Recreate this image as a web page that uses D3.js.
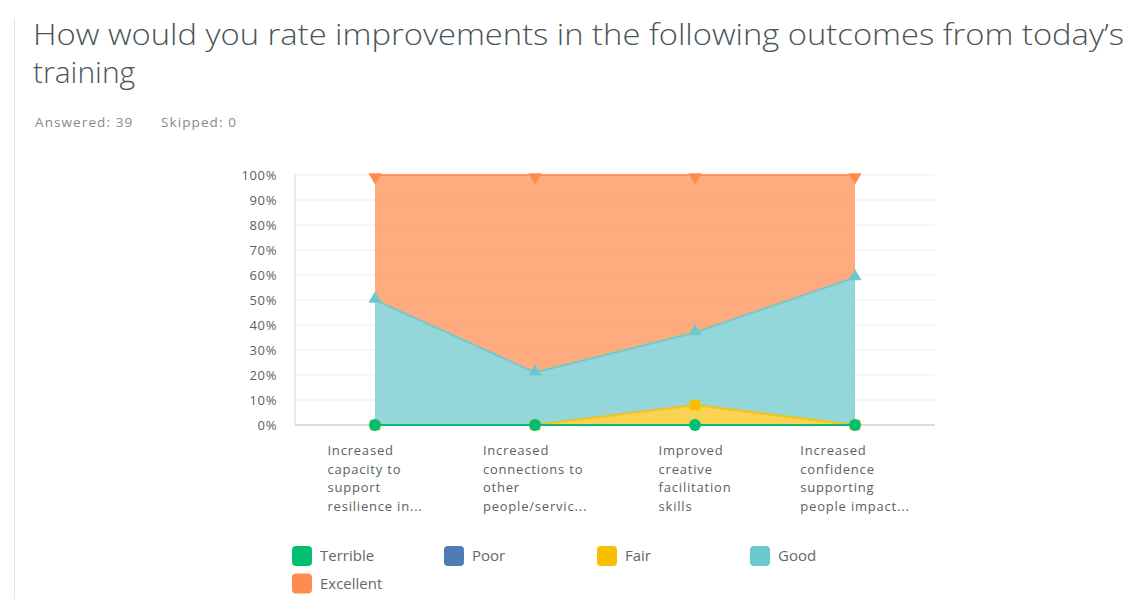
<!DOCTYPE html>
<html><head><meta charset="utf-8">
<script src="https://cdn.jsdelivr.net/npm/d3@7"></script>
<style>
html,body{margin:0;padding:0;background:#fff;}
svg{display:block;font-family:"Open Sans","Noto Sans",sans-serif;}
</style></head>
<body><svg id="c" width="1130" height="599"></svg>
<script>
const titleLines = ["How would you rate improvements in the following outcomes from today\u2019s", "training"];
const subtitle = ["Answered: 39", "Skipped: 0"];
const categories = ["Q1", "Q2", "Q3", "Q4"];
const categoryLabels = [
  ["Increased", "capacity to", "support", "resilience in..."],
  ["Increased", "connections to", "other", "people/servic..."],
  ["Improved", "creative", "facilitation", "skills"],
  ["Increased", "confidence", "supporting", "people impact..."]
];
const seriesNames = ["Terrible", "Poor", "Fair", "Good", "Excellent"];
const seriesColors = ["#00BF6F", "#507CB6", "#F9BE00", "#6BC8CD", "#FF8B4F"];
const terrible = [0, 0, 0, 0];
const poor = [0, 0, 0, 0];
const fair = [0, 0, 8, 0];
const good = [50, 21, 29, 59];
const excellent = [50, 79, 63, 41];
const yTicks = [0, 10, 20, 30, 40, 50, 60, 70, 80, 90, 100];

(function () {
const svg = d3.select("#c");

svg.append("line").attr("x1", 14.5).attr("x2", 14.5).attr("y1", 18).attr("y2", 599)
  .attr("stroke", "#e6e6e6").attr("stroke-width", 1);

titleLines.forEach((t, i) => {
  const el = svg.append("text").attr("x", 33).attr("y", 45 + i * 38)
    .attr("fill", "#4a545b").attr("font-size", 30).attr("font-weight", 300).text(t);
  if (i === 0) el.attr("textLength", 1091).attr("lengthAdjust", "spacingAndGlyphs");
});
svg.append("text").attr("x", 35).attr("y", 127).attr("fill", "#858b8f").attr("font-size", 13.5)
  .attr("letter-spacing", 1.1).text(subtitle[0]);
svg.append("text").attr("x", 161).attr("y", 127).attr("fill", "#858b8f").attr("font-size", 13.5)
  .attr("letter-spacing", 1.1).text(subtitle[1]);

const pLeft = 295, pRight = 935, pTop = 175, pBottom = 425;
const x = d3.scaleBand().domain(categories).range([pLeft, pRight]);
const cx = c => x(c) + x.bandwidth() / 2;
const y = d3.scaleLinear().domain([0, 100]).range([pBottom, pTop]);

const grid = svg.append("g");
grid.selectAll("line").data(yTicks.filter(d => d > 0)).join("line")
  .attr("x1", pLeft).attr("x2", pRight).attr("y1", d => y(d)).attr("y2", d => y(d))
  .attr("stroke", "#eeeeee").attr("stroke-width", 1.2);
svg.append("line").attr("x1", pLeft).attr("x2", pLeft).attr("y1", pTop).attr("y2", pBottom)
  .attr("stroke", "#e4e4e4").attr("stroke-width", 1.5);
svg.append("line").attr("x1", pLeft).attr("x2", pRight).attr("y1", pBottom).attr("y2", pBottom)
  .attr("stroke", "#dcdcdc").attr("stroke-width", 2);

const yAxis = d3.axisLeft(y).tickValues(yTicks).tickFormat(d => d + "%").tickSize(0).tickPadding(0);
const ya = svg.append("g").attr("transform", `translate(${277},0)`).call(yAxis);
ya.select(".domain").remove();
ya.selectAll("text").attr("fill", "#5a5f63").attr("font-size", 13).attr("letter-spacing", 0.6)
  .attr("font-family", "\"Open Sans\",sans-serif");

const rows = categories.map((c, i) => ({cat: c, Terrible: terrible[i], Poor: poor[i], Fair: fair[i], Good: good[i], Excellent: excellent[i]}));
const stack = d3.stack().keys(seriesNames)(rows);

const area = d3.area().x(d => cx(d.data.cat)).y0(d => y(d[0])).y1(d => y(d[1]));
const line = d3.line().x(d => cx(d.data.cat)).y(d => y(d[1]));
const fillOp = [0.7, 0.7, 0.68, 0.72, 0.72];

svg.append("g").selectAll("path").data(stack).join("path")
  .attr("d", area).attr("fill", (d, i) => seriesColors[i]).attr("fill-opacity", (d, i) => fillOp[i]);
const lineG = svg.append("g");
[4, 3, 2, 1, 0].forEach(si => {
  lineG.append("path").datum(stack[si]).attr("d", line).attr("fill", "none")
    .attr("stroke", seriesColors[si]).attr("stroke-width", 2).attr("stroke-opacity", 0.85);
});

const symbols = [d3.symbolCircle, d3.symbolDiamond, d3.symbolSquare, d3.symbolTriangle, d3.symbolTriangle];
const sizes = [110, 40, 110, 75, 75];
const rot = [0, 0, 0, 0, 180];
const mk = svg.append("g");
[4, 3, 2, 1, 0].forEach(si => {
  mk.append("g").selectAll("path").data(stack[si]).join("path")
    .attr("d", d3.symbol().type(symbols[si]).size(sizes[si]))
    .attr("transform", d => `translate(${cx(d.data.cat)},${y(d[1]) + (si === 4 ? 2 : si === 3 ? -1 : 0)}) rotate(${rot[si]})`)
    .attr("fill", seriesColors[si]);
});

categories.forEach((c, i) => {
  const g = svg.append("g");
  const t = g.append("text").attr("font-size", 13).attr("fill", "#5a5f63").attr("letter-spacing", 0.8);
  categoryLabels[i].forEach((ln, j) => {
    t.append("tspan").attr("x", 0).attr("y", 455 + j * 18.5).text(ln);
  });
  const w = t.node().getBBox().width;
  g.attr("transform", `translate(${cx(c) - w / 2},0)`);
});

const legX = [292, 444, 597, 750];
seriesNames.forEach((n, i) => {
  const lx = legX[i % 4], ly = 546 + Math.floor(i / 4) * 27.5;
  svg.append("rect").attr("x", lx).attr("y", ly).attr("width", 20).attr("height", 20).attr("rx", 4)
    .attr("fill", seriesColors[i]);
  svg.append("text").attr("x", lx + 28).attr("y", ly + 15).attr("font-size", 15).attr("fill", "#666").text(n);
});
})();
</script></body></html>
